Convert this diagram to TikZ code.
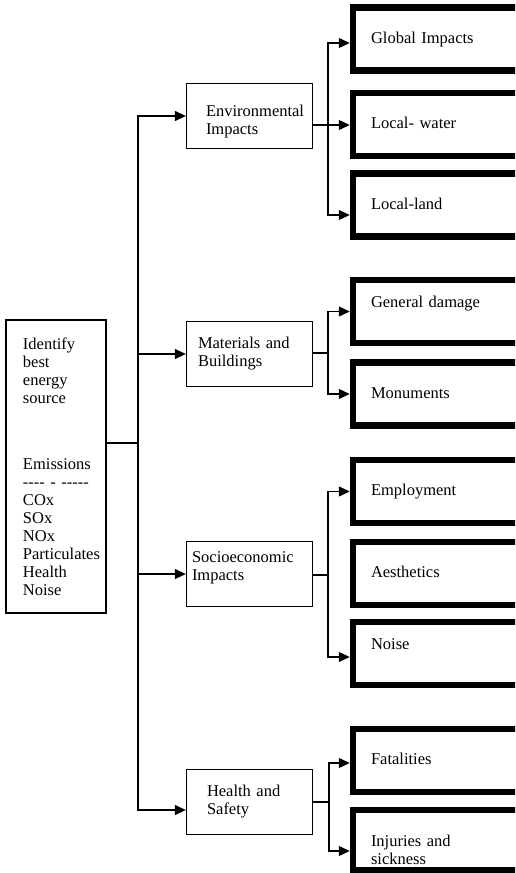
\documentclass[tikz,border=0pt]{standalone}
\usepackage{fontspec}
\setmainfont{Liberation Serif}
\usetikzlibrary{arrows.meta,positioning}
\hfuzz=40pt
\tikzset{
  srcbox/.style={draw, line width=1.3pt, minimum width=100pt, minimum height=293pt,
    inner sep=0pt, text width=66pt, align=left},
  midbox/.style={draw, line width=1.3pt, minimum width=126pt, minimum height=65pt,
    inner sep=0pt, align=left, text width=#1},
  leafbox/.style={draw, line width=6.5pt, minimum width=177pt, minimum height=63pt,
    inner sep=0pt, align=left, text width=141pt, text height=12pt, text depth=4pt},
  conn/.style={line width=1.3pt},
  arr/.style={conn, -{Triangle[length=11pt,width=10pt]}}
}
\begin{document}
\begin{tikzpicture}[x=1pt, y=-1pt, font=\fontsize{16.5}{18}\selectfont]
  \useasboundingbox (0,0) rectangle (515,873);
  \clip (0,0) rectangle (515,873);
  \node[srcbox] (src) at (56,466.5) {Identify\\best\\energy\\source\\[48pt]Emissions\\-{}-{}-{}-\ -\ -{}-{}-{}-{}-\\COx\\SOx\\NOx\\Particulates\\Health\\Noise};

  \node[midbox=87pt, text height=23pt] (env) at (249.5,116) {Environmental\\Impacts};
  \node[midbox=103pt] (mat) at (249.5,354) {Materials and\\Buildings};
  \node[midbox=115pt, text depth=34pt] (soc) at (249.5,574) {Socioeconomic\\Impacts};
  \node[midbox=85pt] (hs) at (249.5,802) {Health and\\Safety};

  \node[leafbox] (glob) at (441.5,39) {Global Impacts};
  \node[leafbox] (lwat) at (441.5,124.5) {Local- water};
  \node[leafbox] (lland) at (441.5,205) {Local-land};
  \node[leafbox, text depth=21pt] (gdam) at (441.5,311.5) {General damage};
  \node[leafbox] (monu) at (441.5,394) {Monuments};
  \node[leafbox] (empl) at (441.5,491.5) {Employment};
  \node[leafbox] (aest) at (441.5,573.5) {Aesthetics};
  \node[leafbox, text depth=21pt] (nois) at (441.5,653.5) {Noise};
  \node[leafbox] (fatal) at (441.5,760.5) {Fatalities};
  \node[leafbox, minimum height=60pt, text height=35pt, text depth=22pt] (injur) at (441.5,840) {Injuries and\\sickness};

  \coordinate (tr) at (138,443);
  \draw[conn] (src.east |- tr) -- (tr);
  \draw[arr] (tr) |- (env.west);
  \draw[arr] (tr) |- (mat.west);
  \draw[arr] (tr) |- (soc.west);
  \draw[arr] (tr) |- ([yshift=-8pt]hs.west);

  \coordinate (sE) at (328,125);
  \draw[conn] (env.east |- sE) -- (sE);
  \draw[arr] (sE) |- ([yshift=-4pt]glob.west);
  \draw[arr] (sE) -- (lwat.west |- sE);
  \draw[arr] (sE) |- ([yshift=-10pt]lland.west);

  \coordinate (sM) at (328,353);
  \draw[conn] (mat.east |- sM) -- (sM);
  \draw[arr] (sM) |- (gdam.west);
  \draw[arr] (sM) |- (monu.west);

  \coordinate (sS) at (328,575);
  \draw[conn] (soc.east |- sS) -- (sS);
  \draw[arr] (sS) |- (empl.west);
  \draw[arr] (sS) |- ([yshift=-3.5pt]nois.west);

  \coordinate (sH) at (329,802);
  \draw[conn] (hs.east |- sH) -- (sH);
  \draw[arr] (sH) |- ([yshift=-2.5pt]fatal.west);
  \draw[arr] (sH) |- ([yshift=-11pt]injur.west);
\end{tikzpicture}
\end{document}
